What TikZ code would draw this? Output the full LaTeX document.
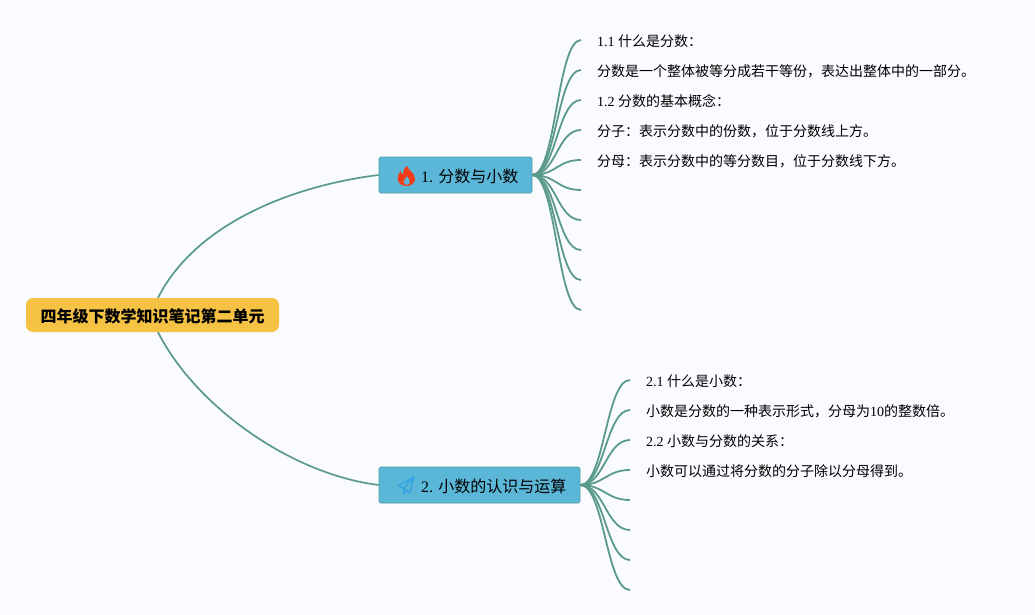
\documentclass[tikz,border=0pt]{standalone}
\usepackage{fontspec}
\setmainfont{Liberation Serif}
\newfontfamily\cjk{Noto Sans CJK SC}
\definecolor{paper}{HTML}{FAFBFF}
\definecolor{link}{HTML}{5A9A8A}
\definecolor{rootfill}{HTML}{F6C244}
\definecolor{mainfill}{HTML}{5BB7D8}
\definecolor{mainline}{HTML}{4F9BA0}
\definecolor{flame}{HTML}{F23C17}
\definecolor{plane}{HTML}{35A3E2}
\tikzstyle{rootbag} = [fill=rootfill, rounded corners=7pt, minimum width=253pt, minimum height=34pt, inner sep=0pt, text height=16pt, text depth=1.8pt, font=\fontsize{16}{18}\selectfont\cjk\bfseries]
\tikzstyle{mainbag} = [fill=mainfill, draw=mainline, line width=0.6pt, rounded corners=1.5pt, minimum height=36pt, inner ysep=0pt, inner xsep=15pt, text height=16pt, text depth=1.8pt, font=\fontsize{16}{18}\selectfont]
\tikzstyle{leaf} = [anchor=west, inner xsep=16pt, inner ysep=0pt, text height=14.3pt, text depth=1.7pt, font=\fontsize{14}{16}\selectfont]
\tikzstyle{branch} = [sibling distance=30pt, edge from parent/.style={draw=link, line width=1.8pt}, edge from parent path={(\tikzparentnode.east) .. controls +(24pt,0pt) and +(-24pt,0pt) .. (\tikzchildnode.west)}]
\tikzstyle{trunk} = [draw=link, line width=1.7pt]

\begin{document}
\begin{tikzpicture}[x=1pt, y=-1pt, grow'=right]
\fill[paper] (0,0) rectangle (1035,615);
\useasboundingbox (0,0) rectangle (1035,615);

\node[rootbag] (root) at (152.5,315) {四年级下数学知识笔记第二单元};

\path[branch, level distance=125.5pt] node[mainbag, text width=123pt] (main1) at (455.5,175) {\mbox{\hspace{27pt}1.\ {\cjk 分数与小数}}}
    child {
        node[leaf] (leaf1a) {1.1 {\cjk 什么是分数：}}
    }
    child {
        node[leaf] (leaf1b) {\cjk 分数是一个整体被等分成若干等份，表达出整体中的一部分。}
    }
    child {
        node[leaf] (leaf1c) {1.2 {\cjk 分数的基本概念：}}
    }
    child {
        node[leaf] (leaf1d) {\cjk 分子：表示分数中的份数，位于分数线上方。}
    }
    child {
        node[leaf] (leaf1e) {\cjk 分母：表示分数中的等分数目，位于分数线下方。}
    }
    child { node[leaf] (leaf1f) {} }
    child { node[leaf] (leaf1g) {} }
    child { node[leaf] (leaf1h) {} }
    child { node[leaf] (leaf1i) {} }
    child { node[leaf] (leaf1j) {} };

\path[branch, level distance=150.5pt] node[mainbag, text width=171pt] (main2) at (479.5,485) {\mbox{\hspace{27pt}2.\ {\cjk 小数的认识与运算}}}
    child {
        node[leaf] (leaf2a) {2.1 {\cjk 什么是小数：}}
    }
    child {
        node[leaf] (leaf2b) {{\cjk 小数是分数的一种表示形式，分母为}10{\cjk 的整数倍。}}
    }
    child {
        node[leaf] (leaf2c) {2.2 {\cjk 小数与分数的关系：}}
    }
    child {
        node[leaf] (leaf2d) {\cjk 小数可以通过将分数的分子除以分母得到。}
    }
    child { node[leaf] (leaf2e) {} }
    child { node[leaf] (leaf2f) {} }
    child { node[leaf] (leaf2g) {} }
    child { node[leaf] (leaf2h) {} };

\draw[trunk] ([xshift=5.5pt]root.north) .. controls +(37,-73) and +(-89,11) .. (main1.west);
\draw[trunk] ([xshift=5.5pt]root.south) .. controls +(37,73) and +(-89,-11) .. (main2.west);

% flame
\fill[flame, even odd rule] (407,166) .. controls (408,170) and (415,173) .. (415,179)
    .. controls (415,183) and (411,186) .. (406.5,186)
    .. controls (402,186) and (397.5,183) .. (397.5,178.5)
    .. controls (397.5,175) and (399.5,173) .. (400.5,171)
    .. controls (401,173) and (402,174) .. (403,174.5)
    .. controls (403,171) and (404,168) .. (407,166) -- cycle
    (406.5,185) .. controls (409,185) and (410,183) .. (410,181.5)
    .. controls (410,179.5) and (408,178) .. (407,176)
    .. controls (406,178) and (403.5,179.5) .. (403.5,182)
    .. controls (403.5,183.5) and (405,185) .. (406.5,185) -- cycle;
% paper plane
\draw[plane, line width=1.5pt, line join=round] (414,477) -- (398.5,485.5) -- (403.5,488.5) -- (414,477) -- (410,492.5) -- (403.5,488.5) -- (403.5,493.5) -- (406.5,490.5);
\end{tikzpicture}
\end{document}
